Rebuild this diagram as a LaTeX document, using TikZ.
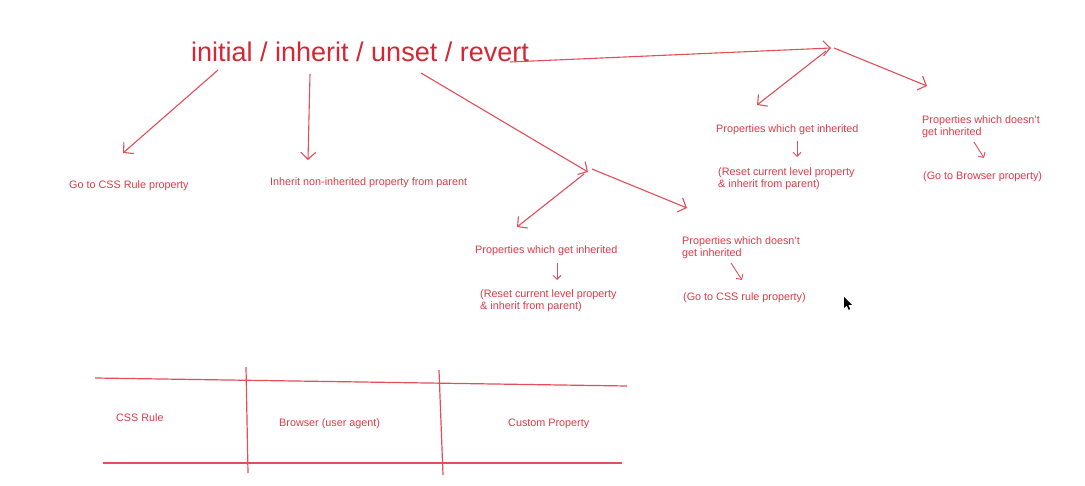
\documentclass[tikz,border=0pt]{standalone}
\usepackage{fontspec}
\setmainfont{Liberation Sans}
\usetikzlibrary{arrows.meta}
\definecolor{titlered}{RGB}{212,38,52}
\definecolor{linered}{RGB}{226,78,90}
\definecolor{textred}{RGB}{222,58,72}
\tikzset{
  title/.style={anchor=base west, inner sep=0pt, text=titlered, font=\fontsize{27}{32}\selectfont},
  lbl/.style={anchor=base west, inner sep=0pt, text=textred, align=left, font=\fontsize{10.8}{12.8}\selectfont},
  arr/.style={draw=linered, line width=1.1pt, -{Straight Barb[length=7pt,width=15pt,line width=1.1pt]}},
  sarr/.style={draw=linered, line width=0.9pt, -{Straight Barb[length=4pt,width=8pt,line width=0.9pt]}},
  tline/.style={draw=linered, line width=1.2pt},
}
\begin{document}
\begin{tikzpicture}[x=1pt,y=-1pt]
\useasboundingbox[fill=white] (0,0) rectangle (1085,486);

% title
\node[title] (ttl) at (191,62) {initial / inherit / unset / revert};

% texts (base anchor = baseline of last line)
\node[lbl] (t1) at (69,189) {Go to CSS Rule property};
\node[lbl] (t2) at (270,186) {Inherit non-inherited property from parent};

\node[lbl] (rA) at (716,133) {Properties which get inherited};
\node[lbl] (rB) at (718,188) {(Reset current level property\\\& inherit from parent)};
\node[lbl] (rC) at (922,136) {Properties which doesn't\\get inherited};
\node[lbl] (rD) at (923,180) {(Go to Browser property)};

\node[lbl] (uA) at (475,254) {Properties which get inherited};
\node[lbl] (uB) at (480,310) {(Reset current level property\\\& inherit from parent)};
\node[lbl] (uC) at (682,257) {Properties which doesn't\\get inherited};
\node[lbl] (uD) at (683,301) {(Go to CSS rule property)};

% arrow endpoints
\coordinate (a1s) at (218,70);  \coordinate (a1e) at (123,153);
\coordinate (a2s) at (310,74);  \coordinate (a2e) at (308,160);
\coordinate (a3s) at (421,73);  \coordinate (a3e) at (588,172);
\coordinate (a4s) at (584,174); \coordinate (a4e) at (517,227);
\coordinate (a5s) at (592,169); \coordinate (a5e) at (687,208);
\coordinate (a6s) at (510,62);  \coordinate (a6e) at (831,48);
\coordinate (a7s) at (826,51);  \coordinate (a7e) at (757,105);
\coordinate (a8s) at (834,48);  \coordinate (a8e) at (927,86);
\coordinate (s1s) at (797,141); \coordinate (s1e) at (797,157);
\coordinate (s2s) at (974,142); \coordinate (s2e) at (984,158);
\coordinate (s3s) at (557,263); \coordinate (s3e) at (557,280);
\coordinate (s4s) at (731,263); \coordinate (s4e) at (742,280);

\draw[arr] (a1s) -- (a1e);
\draw[arr] (a2s) -- (a2e);
\draw[arr] (a3s) -- (a3e);
\draw[arr] (a4s) -- (a4e);
\draw[arr] (a5s) -- (a5e);
\draw[arr] (a6s) -- (a6e);
\draw[arr] (a7s) -- (a7e);
\draw[arr] (a8s) -- (a8e);
\draw[sarr] (s1s) -- (s1e);
\draw[sarr] (s2s) -- (s2e);
\draw[sarr] (s3s) -- (s3e);
\draw[sarr] (s4s) -- (s4e);

% table
\coordinate (tl) at (95,378);  \coordinate (tr) at (627,386);
\coordinate (bl) at (103,463); \coordinate (br) at (622,463);
\coordinate (v1t) at (246,367); \coordinate (v1b) at (248,473);
\coordinate (v2t) at (439,370); \coordinate (v2b) at (443,475);
\draw[tline] (tl) -- (tr);
\draw[tline] (bl) -- (br);
\draw[tline] (v1t) -- (v1b);
\draw[tline] (v2t) -- (v2b);
\node[lbl] (c1) at (116,421) {CSS Rule};
\node[lbl] (c2) at (279,427) {Browser (user agent)};
\node[lbl] (c3) at (508,427) {Custom Property};

% mouse pointer
\fill[black] (844,297) -- (844,308) -- (846.8,305.6) -- (848.6,309.8) -- (850.2,309.1) -- (848.4,305) -- (852,305) -- cycle;
\end{tikzpicture}
\end{document}
